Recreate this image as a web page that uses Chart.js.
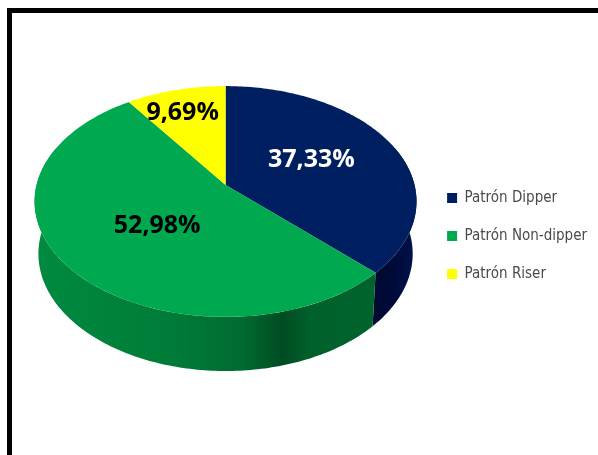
<!DOCTYPE html>
<html lang="es">
<head>
<meta charset="utf-8">
<title>Patrón circadiano</title>
<script src="https://cdn.jsdelivr.net/npm/chart.js@4"></script>
<style>
  html, body { margin: 0; padding: 0; background: #fff; overflow: hidden; }
  #stage { position: relative; width: 598px; height: 455px; }
  #frame { position: absolute; left: 7px; top: 8px; right: -10px; bottom: -10px; border: 5px solid #000; background: #fff; }
  canvas { position: absolute; left: 0; top: 0; }
</style>
</head>
<body>
<div id="stage">
  <div id="frame"></div>
  <canvas id="pie" width="598" height="455"></canvas>
</div>
<script>
const categories = ['Patrón Dipper', 'Patrón Non-dipper', 'Patrón Riser'];
const shares = [37.33, 52.98, 9.69];
const faceColors = ['#001F60', '#00A84F', '#FFFF00'];
const labelColors = ['#ffffff', '#000000', '#000000'];
// Where each value label sits, as a fraction of the slice's mid-angle radius.
const labelReach = [[0.52, 0.60], [0.43, 0.51], [0.86, 0.76]];

// Wall shading along the horizontal axis of the disc, per slice.
const wallStops = [
  [[0, '#000A30'], [0.88, '#000A30'], [0.94, '#000A38'], [1, '#00124A']],
  [[0, '#008A40'], [0.35, '#007C38'], [0.55, '#006A30'], [0.65, '#004C22'], [0.72, '#00602B'], [1, '#00662E']],
  [[0, '#B0B000'], [1, '#B0B000']]
];

// Perspective disc: a unit circle projected with the near rim toward the viewer.
const stretchX = 1.0216;
const tiltY = 0.611;
const nearness = 1 / 7;
const rimDrop = 52;
const rimScaleX = 0.98;
const rimScaleY = 1.016;

function project(arc, angle, lower) {
  const u = Math.cos(angle), v = Math.sin(angle);
  const w = 1 - nearness * v;
  const R = arc.outerRadius;
  const sx = lower ? rimScaleX : 1, sy = lower ? rimScaleY : 1;
  return {
    x: arc.x + sx * stretchX * R * u / w,
    y: arc.y + (lower ? rimDrop : 0) + sy * tiltY * R * v / w
  };
}

function tracePath(ctx, arc, from, to, lower, moveFirst) {
  const steps = Math.max(8, Math.ceil(Math.abs(to - from) * 60));
  for (let i = 0; i <= steps; i++) {
    const p = project(arc, from + (to - from) * i / steps, lower);
    if (i === 0 && moveFirst) ctx.moveTo(p.x, p.y); else ctx.lineTo(p.x, p.y);
  }
}

const disc3d = {
  id: 'disc3d',
  afterLayout(chart) {
    // Legend sits lower than the pie's centre.
    const lg = chart.legend;
    lg.left -= 1; lg.right -= 1;
    lg.top += 51; lg.bottom += 51;
  },
  beforeDatasetsDraw(chart) {
    const ctx = chart.ctx;
    const arcs = chart.getDatasetMeta(0).data;
    const R = arcs[0].outerRadius, cx = arcs[0].x;
    const x0 = cx - stretchX * R, x1 = cx + stretchX * R;

    // Outer wall, only the part of each slice that faces the viewer.
    arcs.forEach((arc, i) => {
      const from = Math.max(arc.startAngle, -0.35);
      const to = Math.min(arc.endAngle, Math.PI + 0.35);
      if (to <= from) return;
      const g = ctx.createLinearGradient(x0, 0, x1, 0);
      wallStops[i].forEach(s => g.addColorStop(s[0], s[1]));
      ctx.beginPath();
      tracePath(ctx, arc, from, to, false, true);
      tracePath(ctx, arc, to, from, true, false);
      ctx.closePath();
      ctx.fillStyle = g;
      ctx.fill();
    });

    // Top face.
    arcs.forEach((arc, i) => {
      ctx.beginPath();
      ctx.moveTo(arc.x, arc.y);
      tracePath(ctx, arc, arc.startAngle, arc.endAngle, false, false);
      ctx.closePath();
      ctx.fillStyle = faceColors[i];
      ctx.fill();
    });

    // Value labels.
    ctx.font = 'bold 25px "Open Sans", Lato, sans-serif';
    ctx.textAlign = 'center';
    ctx.textBaseline = 'middle';
    arcs.forEach((arc, i) => {
      const mid = (arc.startAngle + arc.endAngle) / 2;
      const p = project(arc, mid, false);
      ctx.fillStyle = labelColors[i];
      ctx.fillText(shares[i].toFixed(2).replace('.', ',') + '%',
        arc.x + (p.x - arc.x) * labelReach[i][0],
        arc.y + (p.y - arc.y) * labelReach[i][1]);
    });
    return false;
  }
};

new Chart(document.getElementById('pie'), {
  type: 'pie',
  data: {
    labels: categories,
    datasets: [{ data: shares, backgroundColor: faceColors, borderWidth: 0 }]
  },
  options: {
    responsive: false,
    animation: false,
    layout: { padding: { left: 26, top: 0, bottom: 85, right: 0 } },
    plugins: {
      tooltip: { enabled: false },
      legend: {
        position: 'right',
        labels: {
          boxWidth: 10,
          boxHeight: 10,
          padding: 23,
          color: '#4a4a4a',
          font: { family: '"DejaVu Sans Condensed", "Liberation Sans", sans-serif', size: 15 }
        }
      }
    }
  },
  plugins: [disc3d]
});
</script>
</body>
</html>
